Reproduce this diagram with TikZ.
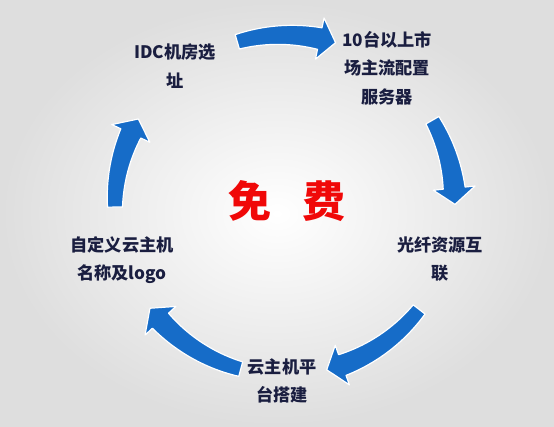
\documentclass[tikz,border=0pt]{standalone}
\usepackage{fontspec}
\newfontfamily\cnfont{Noto Sans CJK SC}
\definecolor{arrowblue}{RGB}{22,108,200}
\definecolor{labelnavy}{RGB}{26,30,64}
\definecolor{freered}{RGB}{240,8,8}
\newcommand*{\rr   }{170}
\newcommand*{\wtail}{7.5}
\newcommand*{\whead}{11}
\newcommand*{\hhead}{21}
\newcommand*{\tipoff}{5.5}
% #1 tail angle, #2 angle where the head starts
\newcommand*{\cycarrow}[2]{%
  \fill [arrowblue, draw=white, line width=1.2pt, line join=round]
    plot [domain=#1:#2, samples=25] ({\x}:{\rr+\wtail+(\whead-\wtail)*(\x-(#1))/((#2)-(#1))})
    -- (#2:{\rr+\hhead}) -- ({#2-\tipoff}:\rr) -- (#2:{\rr-\hhead})
    -- plot [domain=#2:#1, samples=25] ({\x}:{\rr-\wtail-(\whead-\wtail)*(\x-(#1))/((#2)-(#1))})
    -- cycle;}

\begin{document}
\begin{tikzpicture}[x=1pt, y=1pt,
    lbl/.style={align=center, inner sep=0pt, text=labelnavy,
                font=\cnfont\bfseries\fontsize{17.2}{28.5}\selectfont}]
    \shade [inner color=white, outer color=black!13] (0,0) rectangle (554,427);
    \begin{scope}[shift={(285,222)}]
        \cycarrow{106.3}{78.2}
        \cycarrow{29.9}{5.7}
        \cycarrow{-37.9}{-70.3}
        \cycarrow{-105.1}{-137.1}
        \cycarrow{180.7}{155.1}
    \end{scope}
    \node [lbl] (idc)      at (175,361) {IDC机房选\\址};
    \node [lbl] (server)   at (387,359) {10台以上市\\场主流配置\\服务器};
    \node [lbl] (fiber)    at (440,168) {光纤资源互\\联};
    \node [lbl] (platform) at (282, 46) {云主机平\\台搭建};
    \node [lbl] (custom)   at (122,167) {自定义云主机\\名称及logo};
    \node [inner sep=0pt, text=freered, font=\cnfont\bfseries\fontsize{43}{46}\selectfont]
        (free) at (287,226) {免\hspace{31pt}费};
\end{tikzpicture}
\end{document}
